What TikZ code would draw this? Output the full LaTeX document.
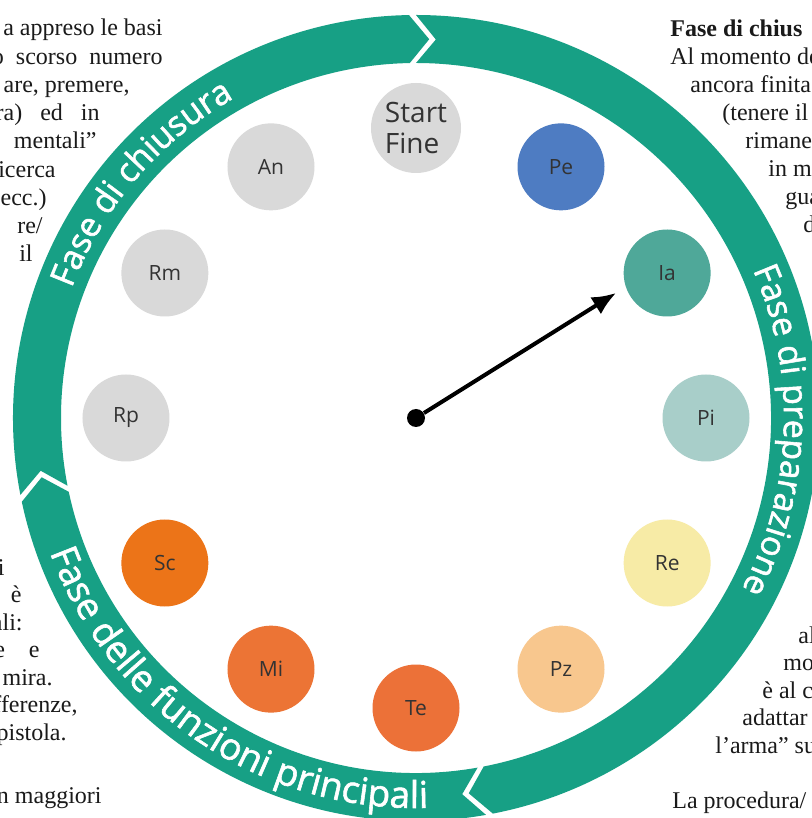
\documentclass[tikz,border=0pt]{standalone}
\usepackage{fontspec}
\setmainfont{Liberation Serif}
\newfontfamily\dialfont{Open Sans}
\newfontfamily\ringface[RawFeature={embolden=1.6}]{Open Sans}
\usetikzlibrary{arrows.meta,decorations.text}
\definecolor{ringgreen}{HTML}{17A085}
\definecolor{dialgray}{HTML}{D9D9D9}
\definecolor{pecol}{HTML}{4E7CC2}
\definecolor{iacol}{HTML}{4FA899}
\definecolor{picol}{HTML}{A8CEC9}
\definecolor{recol}{HTML}{F7EBA6}
\definecolor{pzcol}{HTML}{F8C78E}
\definecolor{tecol}{HTML}{EC7138}
\definecolor{micol}{HTML}{EC7435}
\definecolor{sccol}{HTML}{EC7418}
\definecolor{labelcol}{HTML}{333333}
\definecolor{bodycol}{HTML}{1A1A1A}
\tikzstyle{ring}=[fill=ringgreen]
\tikzstyle{dial}=[circle, inner sep=0pt, minimum size=43.5pt, text=labelcol, font=\dialfont\fontsize{10.5}{12}\selectfont]
\tikzstyle{hub}=[circle, fill=black, inner sep=0pt, minimum size=9pt]
\tikzstyle{hand}=[line width=2pt, -{Latex[length=12pt,width=10pt]}]
\tikzstyle{body}=[inner sep=0pt, text=bodycol, font=\fontsize{12}{14}\selectfont]
\tikzstyle{lbody}=[body, anchor=base east]
\tikzstyle{rbody}=[body, anchor=base west]
\newcommand{\ringIn}{355}
\newcommand{\ringOut}{403}
\newcommand{\ringMid}{379}
\newcommand{\ringTip}{3}
\newcommand{\ringGap}{1}
\newcommand{\ringsegment}[2]{
\fill[ring] (#1:\ringOut) arc[start angle=#1, end angle=#2+\ringGap, radius=\ringOut]
  -- (#2+\ringGap-\ringTip:\ringMid) -- (#2+\ringGap:\ringIn)
  arc[start angle=#2+\ringGap, end angle=#1, radius=\ringIn]
  -- (#1-\ringTip:\ringMid) -- cycle;
}
\newcommand{\ringlabel}[5]{
\path[decorate, decoration={text along path, text align=center, text color=white, text={|\ringface\fontsize{#4}{20}\selectfont|#5}}]
  (#1:#3) arc[start angle=#1, end angle=#2, radius=#3];
}

\begin{document}
\begin{tikzpicture}[x=0.5pt,y=0.5pt]
\useasboundingbox (-416,-400) rectangle (396,418);
\clip (-416,-400) rectangle (396,418);
\fill[white] (-416,-400) rectangle (396,418);
% text column left
\node[lbody] (l1) at (-253,382) {a appreso le basi};
\node[lbody] (l2) at (-253,353.5) {o\ \ scorso\ \ numero};
\node[lbody] (l3) at (-286,325) {are, premere,};
\node[lbody] (l4) at (-316,297) {ra)\ \ \ ed\ \ \ in};
\node[lbody] (l5) at (-319,269) {mentali”};
\node[lbody] (l6) at (-360,240.5) {icerca};
\node[lbody] (l7) at (-369,212) {ecc.)};
\node[lbody] (l8) at (-373,184) {re/};
\node[lbody] (l9) at (-383,156) {il};
\node[lbody] (l10) at (-411,-157) {i};
\node[lbody] (l11) at (-394,-184.5) {è};
\node[lbody] (l12) at (-393,-212) {ali:};
\node[lbody] (l13) at (-376,-239.5) {e\ \ \ \ e};
\node[lbody] (l14) at (-363,-267) {mira.};
\node[lbody] (l15) at (-338,-294.5) {fferenze,};
\node[lbody] (l16) at (-349,-322) {pistola.};
\node[lbody] (l17) at (-314,-385) {n maggiori};
% text column right
\node[rbody] (r1) at (254,381) {\bfseries Fase di chius};
\node[rbody] (r2) at (254,353) {Al momento de};
\node[rbody] (r3) at (274,325) {ancora finita};
\node[rbody] (r4) at (306,297) {(tenere il};
\node[rbody] (r5) at (329,269) {rimane};
\node[rbody] (r6) at (352,241) {in m};
\node[rbody] (r7) at (369,213) {gua};
\node[rbody] (r8) at (387,185) {d};
\node[rbody] (r9) at (382,-225) {al};
\node[rbody] (r10) at (367,-252.5) {mo};
\node[rbody] (r11) at (346,-280) {è al c};
\node[rbody] (r12) at (326,-307.5) {adattar};
\node[rbody] (r13) at (299,-335) {l’arma” su};
\node[rbody] (r14) at (256,-390) {La procedura/};
% ring
\ringsegment{90}{-80}
\ringsegment{-80}{-169}
\ringsegment{191}{90}
\ringlabel{48}{-52}{368}{17}{Fase di preparazione}
\ringlabel{189.5}{89.5}{368}{17}{Fase di chiusura}
\ringlabel{186}{286}{390}{18.5}{Fase delle funzioni principali}
% dial
\node[dial, fill=dialgray, minimum size=45pt, align=left, font=\dialfont\fontsize{14}{15.5}\selectfont] (start) at (90:290) {Start\\Fine};
\foreach \a/\lab/\col in {60/Pe/pecol, 30/Ia/iacol, 0/Pi/picol, -30/Re/recol, -60/Pz/pzcol, -90/Te/tecol, -120/Mi/micol, -150/Sc/sccol, 180/Rp/dialgray, 150/Rm/dialgray, 120/An/dialgray}
  \node[dial, fill=\col] (\lab) at (\a:290) {\lab};
\node[hub] (hub) at (0,0) {};
\coordinate (tip) at (32:236);
\draw[hand] (hub) -- (tip);
\end{tikzpicture}
\end{document}
